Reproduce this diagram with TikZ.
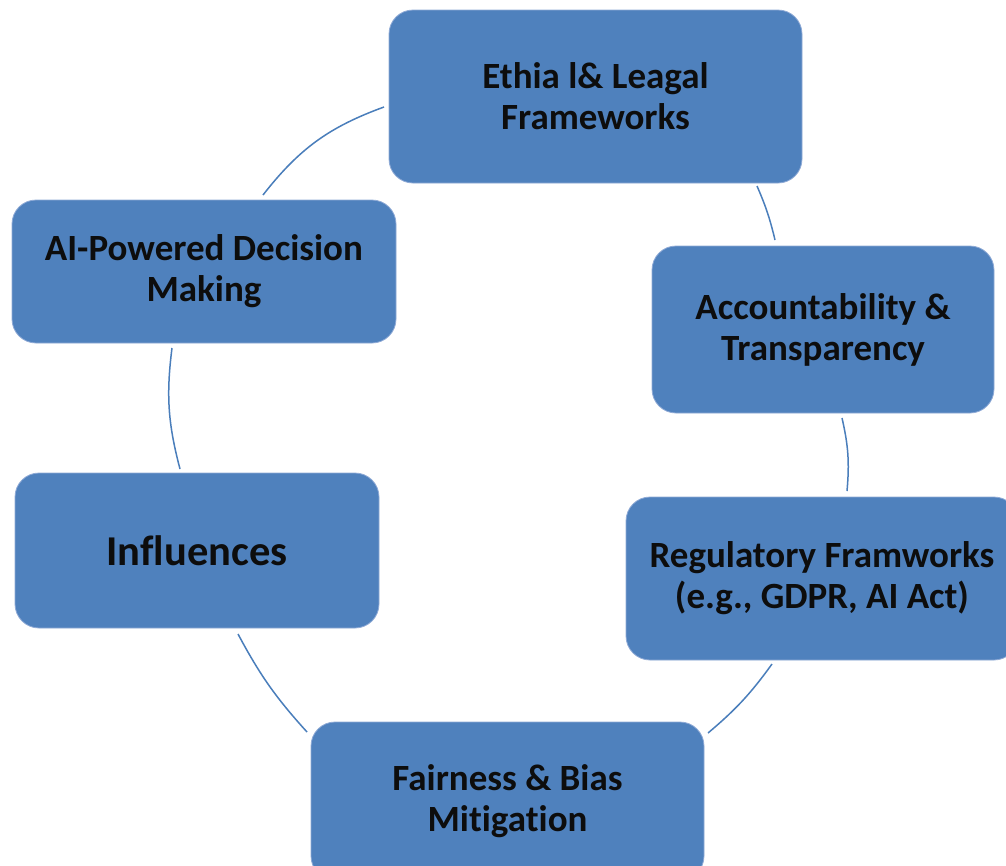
\documentclass[tikz,border=0pt]{standalone}
\usepackage{fontspec}
\setmainfont{Carlito}[Ligatures={NoCommon}]
\definecolor{boxblue}{HTML}{4F81BD}
\definecolor{boxedge}{HTML}{8FAAD6}
\definecolor{arcblue}{HTML}{4A7EBB}
\definecolor{textblack}{HTML}{0D0D0D}
\begin{document}
\begin{tikzpicture}[x=1pt,y=-1pt,
  box/.style={rectangle, rounded corners=24pt, fill=boxblue, draw=boxedge, line width=0.8pt,
    text=textblack, align=center, inner sep=0pt,
    font=\fontsize{37}{41}\selectfont\bfseries},
  link/.style={draw=arcblue, line width=1.5pt}]
\useasboundingbox (0,0) rectangle (1006,865);
\fill[white] (0,0) rectangle (1006,865);

\node[box, minimum width=413pt, minimum height=173pt] (eth) at (595.5,96.5) {Ethia l\& Leagal\\Frameworks};
\node[box, minimum width=342pt, minimum height=167pt] (acc) at (823,329.5) {Accountability \&\\Transparency};
\node[box, minimum width=392pt, minimum height=163pt] (reg) at (822,578.5) {Regulatory Framworks\\(e.g., GDPR, AI Act)};
\node[box, minimum width=393pt, minimum height=158pt] (fair) at (507.5,801) {Fairness \& Bias\\Mitigation};
\node[box, minimum width=364pt, minimum height=155pt, font=\fontsize{42.5}{47}\selectfont\bfseries] (infl) at (197,550.5) {Influences};
\node[box, minimum width=384pt, minimum height=143pt] (ai) at (204,271.5) {AI-Powered Decision\\Making};

\coordinate (a1s) at (384,107);
\coordinate (a1e) at (263,195);
\coordinate (a6s) at (172,348);
\coordinate (a6e) at (180,469);
\coordinate (a5s) at (238,634);
\coordinate (a5e) at (307,732);
\coordinate (a4s) at (708,733);
\coordinate (a4e) at (772,664);
\coordinate (a3s) at (847,491);
\coordinate (a3e) at (842,418);
\coordinate (a2s) at (775,240);
\coordinate (a2e) at (757,186);

\draw[link] (a1s) to[bend right=16] (a1e);
\draw[link] (a6s) to[bend right=11] (a6e);
\draw[link] (a5s) to[bend right=7] (a5e);
\draw[link] (a4s) to[bend right=7] (a4e);
\draw[link] (a3s) to[bend right=9] (a3e);
\draw[link] (a2s) to[bend right=5] (a2e);
\end{tikzpicture}
\end{document}
